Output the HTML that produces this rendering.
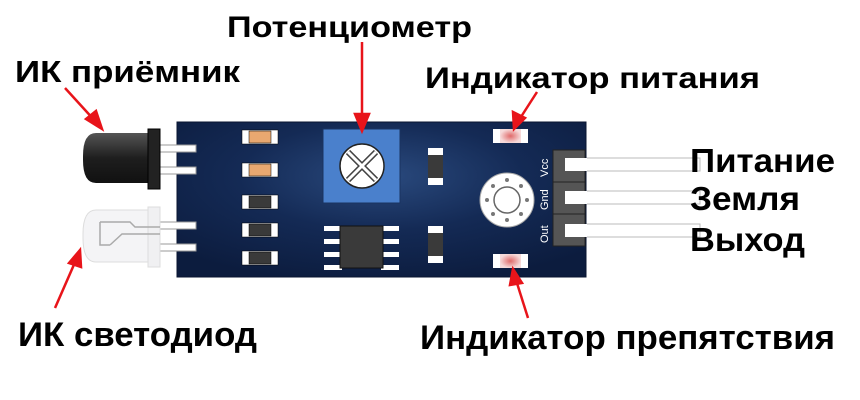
<!DOCTYPE html>
<html><head><meta charset="utf-8"><style>
html,body{margin:0;padding:0;background:#fff;width:860px;height:400px;overflow:hidden}
svg{display:block}
text{font-family:"Liberation Sans",Arial,sans-serif;font-weight:bold;fill:#000}
</style></head><body>
<svg width="860" height="400" viewBox="0 0 860 400" xmlns="http://www.w3.org/2000/svg">
<defs>
<radialGradient id="bg" cx="0.5" cy="0.35" r="0.7">
<stop offset="0" stop-color="#2a4a7e"/><stop offset="0.5" stop-color="#142a55"/><stop offset="1" stop-color="#0c1c3e"/>
</radialGradient>
<linearGradient id="blk" x1="0" y1="0" x2="0" y2="1">
<stop offset="0" stop-color="#555"/><stop offset="0.5" stop-color="#1e1e1e"/><stop offset="1" stop-color="#111"/>
</linearGradient>
<radialGradient id="led" cx="0.5" cy="0.5" r="0.5"><stop offset="0" stop-color="#e06a6a"/><stop offset="1" stop-color="#f6dada"/></radialGradient>
</defs>
<rect x="565" y="158" width="135" height="13" fill="#fff" stroke="#bbb"/>
<rect x="565" y="191" width="135" height="13" fill="#fff" stroke="#bbb"/>
<rect x="565" y="224" width="135" height="13" fill="#fff" stroke="#bbb"/>
<rect x="177" y="122" width="409" height="155" fill="url(#bg)" stroke="#0a1530"/>
<rect x="158" y="145" width="38" height="7" fill="#fff" stroke="#999"/>
<rect x="158" y="167" width="38" height="7" fill="#fff" stroke="#999"/>
<path d="M96 133 H150 V183 H96 Q83 183 83 160 V156 Q83 133 96 133Z" fill="url(#blk)"/>
<rect x="148" y="129" width="12" height="60" fill="#222" stroke="#000"/>
<rect x="155" y="222" width="41" height="7" fill="#fff" stroke="#999"/>
<rect x="155" y="244" width="41" height="7" fill="#fff" stroke="#999"/>
<path d="M96 210 H150 V262 H96 Q83 262 83 238 V234 Q83 210 96 210Z" fill="#f4f4f6" stroke="#ddd"/>
<rect x="148" y="207" width="12" height="60" fill="#f0f0f2" stroke="#ddd"/>
<path d="M100 222 H130 L135 227 H160 M110 245 L122 234 H160 M100 222 V245 H110" fill="none" stroke="#aaa" stroke-width="1.5"/>
<g stroke="#000" stroke-width="0.5">
<rect x="242" y="130" width="36" height="14" fill="#fff"/><rect x="249" y="131" width="22" height="12" fill="#e8a870"/>
<rect x="242" y="163" width="36" height="14" fill="#fff"/><rect x="249" y="164" width="22" height="12" fill="#e8a870"/>
<rect x="242" y="195" width="36" height="14" fill="#fff"/><rect x="249" y="196" width="22" height="12" fill="#3a3a3a"/>
<rect x="242" y="223" width="36" height="14" fill="#fff"/><rect x="249" y="224" width="22" height="12" fill="#3a3a3a"/>
<rect x="242" y="251" width="36" height="14" fill="#fff"/><rect x="249" y="252" width="22" height="12" fill="#3a3a3a"/>
</g>
<rect x="323" y="129" width="77" height="74" fill="#4a80cc" stroke="#1a3360"/>
<circle cx="362" cy="166" r="22" fill="#fff" stroke="#222" stroke-width="1.5"/>
<path d="M348 152 L376 180 M376 152 L348 180" stroke="#444" stroke-width="6"/>
<path d="M348 152 L376 180 M376 152 L348 180" stroke="#fff" stroke-width="3"/>
<rect x="428" y="148" width="15" height="37" fill="#fff"/><rect x="428" y="155" width="15" height="23" fill="#3a3a3a"/>
<rect x="428" y="226" width="15" height="37" fill="#fff"/><rect x="428" y="233" width="15" height="23" fill="#3a3a3a"/>
<g fill="#fff">
<rect x="324" y="226" width="18" height="5"/><rect x="324" y="239" width="18" height="5"/><rect x="324" y="252" width="18" height="5"/><rect x="324" y="265" width="18" height="5"/>
<rect x="381" y="226" width="18" height="5"/><rect x="381" y="239" width="18" height="5"/><rect x="381" y="252" width="18" height="5"/><rect x="381" y="265" width="18" height="5"/>
</g>
<rect x="340" y="226" width="43" height="42" fill="#3a3a3a" stroke="#111"/>
<rect x="493" y="129" width="35" height="14" fill="#fff"/><rect x="500" y="129" width="21" height="14" fill="url(#led)"/>
<rect x="493" y="254" width="35" height="14" fill="#fff"/><rect x="500" y="254" width="21" height="14" fill="url(#led)"/>
<circle cx="507" cy="200" r="27" fill="#fff" stroke="#aaa"/>
<circle cx="507" cy="200" r="13" fill="#fff" stroke="#666" stroke-width="1.5"/>
<g fill="#777"><circle cx="507" cy="180" r="2"/><circle cx="507" cy="220" r="2"/><circle cx="487" cy="200" r="2"/><circle cx="527" cy="200" r="2"/><circle cx="493" cy="186" r="2"/><circle cx="521" cy="186" r="2"/><circle cx="493" cy="214" r="2"/><circle cx="521" cy="214" r="2"/></g>
<rect x="553" y="150" width="32" height="96" fill="#555" stroke="#222"/>
<line x1="553" y1="182" x2="585" y2="182" stroke="#222"/><line x1="553" y1="214" x2="585" y2="214" stroke="#222"/>
<rect x="565" y="158" width="22" height="13" fill="#fff"/><rect x="565" y="191" width="22" height="13" fill="#fff"/><rect x="565" y="224" width="22" height="13" fill="#fff"/>
<g font-size="11">
<text x="0" y="0" transform="translate(548,177) rotate(-90)" style="fill:#fff;font-weight:normal">Vcc</text>
<text x="0" y="0" transform="translate(548,210) rotate(-90)" style="fill:#fff;font-weight:normal">Gnd</text>
<text x="0" y="0" transform="translate(548,243) rotate(-90)" style="fill:#fff;font-weight:normal">Out</text>
</g>
<g stroke="#e8141a" stroke-width="2.5" fill="#e8141a">
<line x1="65" y1="88" x2="96" y2="122"/><polygon points="102,129 86,119 96,111"/>
<line x1="362" y1="42" x2="362" y2="120"/><polygon points="362,131 355,114 369,114"/>
<line x1="537" y1="92" x2="519" y2="120"/><polygon points="514,129 513,112 525,118"/>
<line x1="528" y1="318" x2="516" y2="280"/><polygon points="513,269 510,285 522,283"/>
<line x1="55" y1="308" x2="76" y2="260"/><polygon points="80,250 69,263 81,267"/>
</g>
<text x="227" y="37" font-size="30" textLength="245" lengthAdjust="spacingAndGlyphs">Потенциометр</text>
<text x="15" y="82" font-size="31" textLength="225" lengthAdjust="spacingAndGlyphs">ИК приёмник</text>
<text x="425" y="88" font-size="30" textLength="335" lengthAdjust="spacingAndGlyphs">Индикатор питания</text>
<text x="690" y="172" font-size="33" textLength="145" lengthAdjust="spacingAndGlyphs">Питание</text>
<text x="690" y="210" font-size="33" textLength="110" lengthAdjust="spacingAndGlyphs">Земля</text>
<text x="690" y="251" font-size="33" textLength="115" lengthAdjust="spacingAndGlyphs">Выход</text>
<text x="18" y="346" font-size="34" textLength="239" lengthAdjust="spacingAndGlyphs">ИК светодиод</text>
<text x="420" y="349" font-size="34" textLength="415" lengthAdjust="spacingAndGlyphs">Индикатор препятствия</text>
</svg>
</body></html>
